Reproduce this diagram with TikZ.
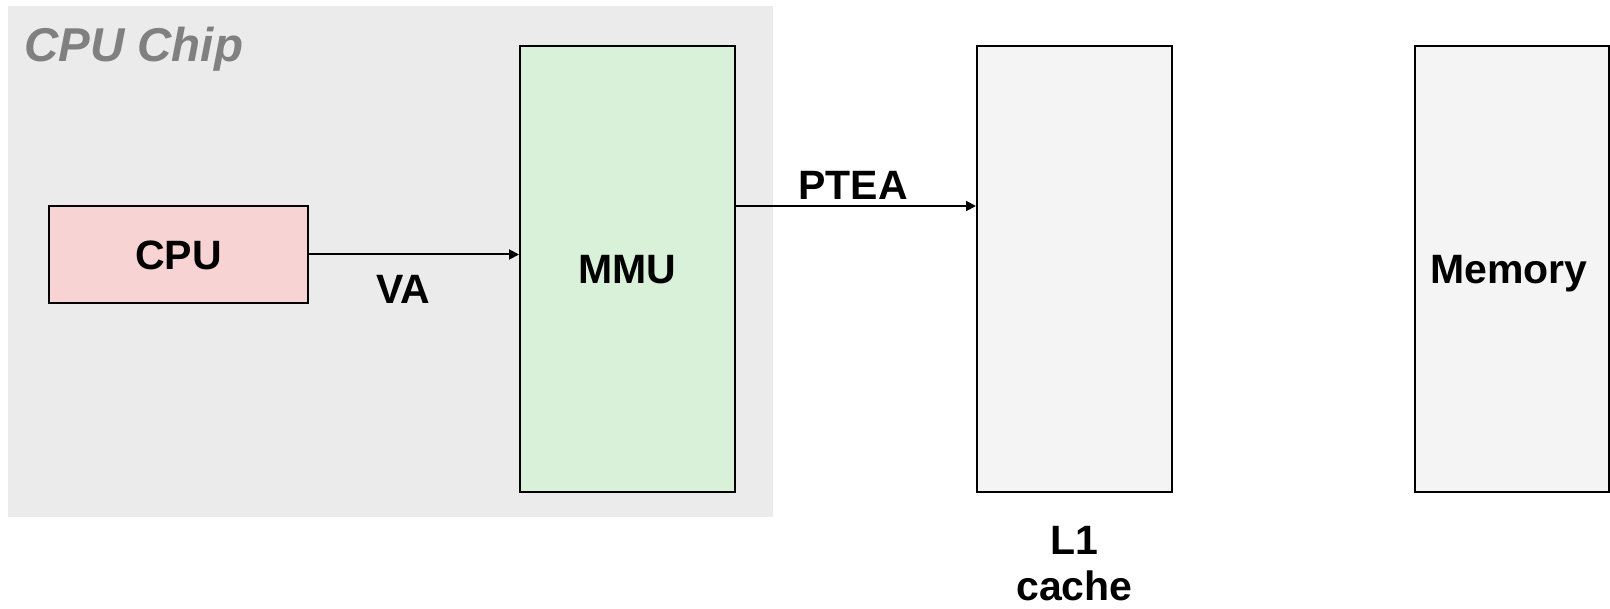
\documentclass[tikz,border=0pt]{standalone}
\usepackage{fontspec}
\setmainfont{Liberation Sans}
\usetikzlibrary{arrows.meta,calc}
\definecolor{chipbg}{HTML}{EBEBEB}
\definecolor{chiptext}{HTML}{808080}
\definecolor{cpufill}{HTML}{F7D3D3}
\definecolor{mmufill}{HTML}{D9F1D9}
\definecolor{memfill}{HTML}{F4F4F4}
\begin{document}
\begin{tikzpicture}[x=0.75pt,y=-0.75pt,
  txt/.style={font=\bfseries\fontsize{30.75pt}{36.4pt}\selectfont},
  box/.style={draw=black, line width=1.5pt, inner sep=0pt, text height=22pt, text depth=0pt, txt},
  lbl/.style={inner sep=0pt, anchor=base, txt},
  conn/.style={line width=1.5pt, -{Triangle[length=7.5pt,width=7.5pt]}}]
\useasboundingbox (0,0) rectangle (1610,609);
\fill[white] (0,0) rectangle (1610,609);
\fill[chipbg] (8,6) rectangle (773,517);
\node[inner sep=0pt, anchor=base west, text=chiptext, font=\bfseries\itshape\fontsize{35.6pt}{40pt}\selectfont] (chip) at (24,61.5) {CPU Chip};
\node[box, fill=cpufill, minimum width=194.25pt, minimum height=72.75pt] (cpu) at (178.5,254.5) {CPU};
\node[box, fill=mmufill, minimum width=161.25pt, minimum height=334.5pt] (mmu) at (627.5,269) {MMU};
\node[box, fill=memfill, minimum width=146.25pt, minimum height=334.5pt] (l1) at (1074.5,269) {};
\node[box, fill=memfill, minimum width=145.1pt, minimum height=334.5pt] (mem) at (1511.75,269) {\hspace*{-4.5pt}Memory};
\draw[conn] (cpu.east) -- (cpu.east -| mmu.west);
\draw[conn] ([yshift=47.25pt]mmu.east) -- ([yshift=47.25pt]l1.west);
\node[lbl] (va) at (403,304) {VA};
\node[lbl] (ptea) at (853,200) {PTEA};
\node[lbl, align=center, font=\bfseries\fontsize{30.75pt}{34pt}\selectfont] (l1lbl) at (1074.5,600) {L1\\cache};
\end{tikzpicture}
\end{document}
